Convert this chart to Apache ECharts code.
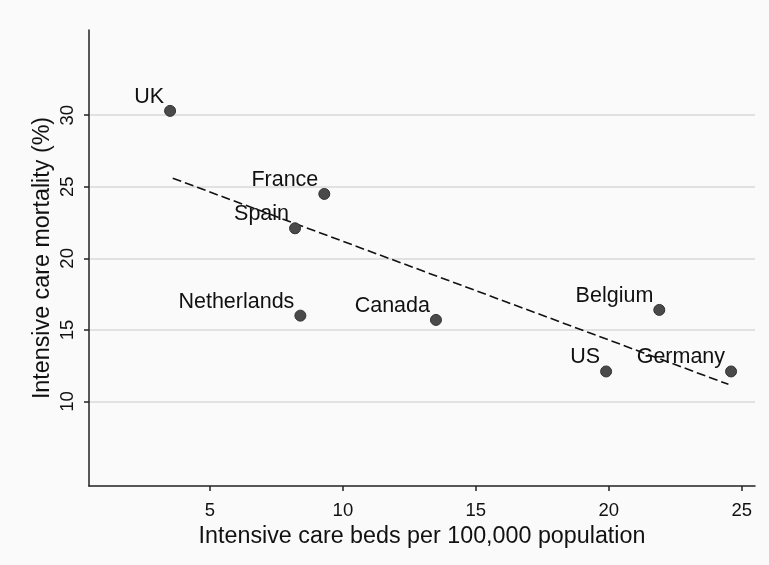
<!DOCTYPE html>
<html>
<head>
<meta charset="utf-8">
<script src="https://cdn.jsdelivr.net/npm/echarts@6/dist/echarts.min.js"></script>
<style>html,body{margin:0;padding:0;background:#fafafa;}#c{width:769px;height:565px;}</style>
</head>
<body>
<div id="c"></div>
<script>
const countries = ['UK', 'France', 'Spain', 'Netherlands', 'Canada', 'Belgium', 'US', 'Germany'];
const beds = [3.5, 9.3, 8.2, 8.4, 13.5, 21.9, 19.9, 24.6];
const mortality = [30.3, 24.5, 22.1, 16.0, 15.7, 16.4, 12.1, 12.1];
const fitX = [3.6, 24.5];
const fitY = [25.6, 11.2];
const xTicks = [5, 10, 15, 20, 25];
const yTicks = [10, 15, 20, 25, 30];
const xTitle = 'Intensive care beds per 100,000 population';
const yTitle = 'Intensive care mortality (%)';

const font = 'Liberation Sans, Arial, Helvetica, sans-serif';
const chart = echarts.init(document.getElementById('c'));
const points = countries.map((c, i) => ({ name: c, value: [beds[i], mortality[i]] }));
const fit = fitX.map((x, i) => [x, fitY[i]]);

chart.setOption({
  backgroundColor: '#fafafa',
  animation: false,
  grid: { left: 89, right: 14, top: 30, bottom: 79, containLabel: false },
  xAxis: {
    type: 'value', min: 0.45, max: 25.5,
    name: xTitle, nameLocation: 'middle', nameGap: 39, nameMoveOverlap: false,
    nameTextStyle: { fontFamily: font, fontSize: 23.3, color: '#111' },
    axisLine: { show: true, onZero: false, lineStyle: { color: '#222', width: 1.5 } },
    axisTick: { show: true, length: 5, customValues: xTicks, lineStyle: { color: '#222', width: 1.5 } },
    axisLabel: { customValues: xTicks, fontFamily: font, fontSize: 18.5, color: '#111', margin: 15 },
    splitLine: { show: false }
  },
  yAxis: {
    type: 'value', min: 4.1, max: 35.95,
    name: yTitle, nameLocation: 'middle', nameGap: 35, nameMoveOverlap: false,
    nameTextStyle: { fontFamily: font, fontSize: 23.3, color: '#111' },
    axisLine: { show: true, onZero: false, lineStyle: { color: '#222', width: 1.5 } },
    axisTick: { show: true, length: 5, customValues: yTicks, lineStyle: { color: '#222', width: 1.5 } },
    axisLabel: { customValues: yTicks, rotate: 90, fontFamily: font, fontSize: 18.5, color: '#111', margin: 12 },
    splitLine: { show: true, lineStyle: { color: '#d8d8d8', width: 1.5 } }
  },
  series: [
    {
      type: 'line', data: fit, symbol: 'none', silent: true, z: 2,
      lineStyle: { color: '#111', width: 1.6, type: [9, 4] }
    },
    {
      type: 'scatter', data: points, symbol: 'circle', symbolSize: 11, z: 3,
      itemStyle: { color: '#4a4a4a', borderColor: '#333', borderWidth: 1, opacity: 1 },
      label: {
        show: true, formatter: p => p.name, position: 'left', distance: 0, offset: [0, -14],
        fontFamily: font, fontSize: 21.5, color: '#111'
      }
    }
  ]
});
</script>
</body>
</html>
